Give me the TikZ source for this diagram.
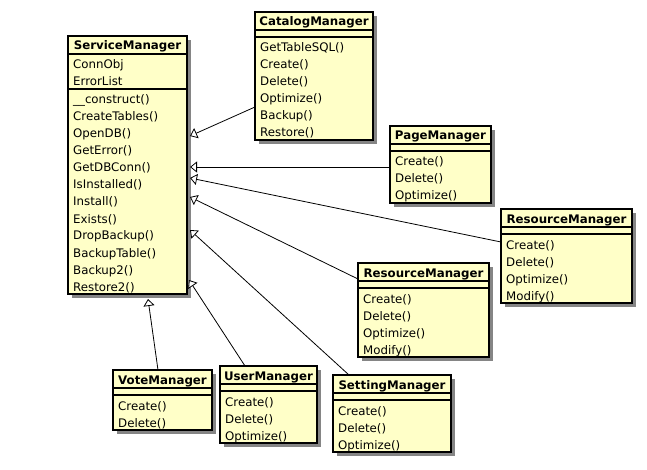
\documentclass[tikz,border=0pt]{standalone}
\usepackage{fontspec}
\setmainfont{DejaVu Sans}
\usetikzlibrary{calc,arrows.meta}

\definecolor{classfill}{HTML}{FFFFC8}
\definecolor{shadowgray}{HTML}{858585}

\tikzset{
  classbox/.style={draw=black, line width=1.3pt, fill=classfill, anchor=north west,
                   inner sep=0pt, outer sep=0pt},
  compsep/.style={draw=black, line width=1.3pt},
  classtitle/.style={anchor=base, inner sep=0pt,
                     font=\fontsize{11.8}{14}\selectfont\bfseries},
  member/.style={anchor=base west, inner sep=0pt,
                 font=\fontsize{11.8}{14}\selectfont},
  generalization/.style={line width=0.8pt,
                 -{Triangle[length=7pt,width=11pt,fill=white,line width=0.8pt]}},
}

% #1 name, #2 x, #3 y (top left), #4 width, #5 attribute count,
% #6 operation count, #7 class name, #8 attributes, #9 operations
\newcommand\UMLclass[9]{%
  \pgfmathsetmacro\umlAttrH{#5==0 ? 7 : 17*#5+1}%
  \pgfmathsetmacro\umlOperH{17*#6+1}%
  \pgfmathsetmacro\umlBoxH{18+\umlAttrH+\umlOperH}%
  \fill[shadowgray] (#2+4,#3+4) rectangle ++(#4,\umlBoxH);
  \node[classbox, minimum width=#4pt, minimum height=\umlBoxH pt] (#1) at (#2,#3) {};
  \draw[compsep] ($(#1.north west)+(0,18)$) -- ($(#1.north east)+(0,18)$);
  \draw[compsep] ($(#1.north west)+(0,18+\umlAttrH)$) -- ($(#1.north east)+(0,18+\umlAttrH)$);
  \node[classtitle] (#1-title) at ($(#1.north west)+(#4/2,14)$) {#7};
  \ifnum#5>0
    \foreach \umlItem [count=\umlI] in {#8}
      \node[member] (#1-attr\umlI) at ($(#1.north west)+(5,18+15+17*\umlI-17)$) {\umlItem};
  \fi
  \foreach \umlItem [count=\umlI] in {#9}
    \node[member] (#1-op\umlI) at ($(#1.north west)+(5,18+\umlAttrH+15+17*\umlI-17)$) {\umlItem};
}

\begin{document}
\begin{tikzpicture}[x=1pt, y=-1pt]
  \fill[white] (0,0) rectangle (647,470);
  \useasboundingbox (0,0) rectangle (647,470);

  \UMLclass{svc}{68}{36}{119}{2}{12}{ServiceManager}{ConnObj,ErrorList}%
    {\_\_construct(),CreateTables(),OpenDB(),GetError(),GetDBConn(),IsInstalled(),Install(),Exists(),DropBackup(),BackupTable(),Backup2(),Restore2()}
  \UMLclass{cat}{255}{12}{118}{0}{6}{CatalogManager}{}%
    {GetTableSQL(),Create(),Delete(),Optimize(),Backup(),Restore()}
  \UMLclass{page}{390}{126}{101}{0}{3}{PageManager}{}%
    {Create(),Delete(),Optimize()}
  \UMLclass{resR}{501}{209}{131}{0}{4}{ResourceManager}{}%
    {Create(),Delete(),Optimize(),Modify()}
  \UMLclass{resM}{358}{263}{131}{0}{4}{ResourceManager}{}%
    {Create(),Delete(),Optimize(),Modify()}
  \UMLclass{vote}{113}{370}{99}{0}{2}{VoteManager}{}%
    {Create(),Delete()}
  \UMLclass{user}{220}{366}{97}{0}{3}{UserManager}{}%
    {Create(),Delete(),Optimize()}
  \UMLclass{set}{333}{375}{118}{0}{3}{SettingManager}{}%
    {Create(),Delete(),Optimize()}

  % inheritance from ServiceManager
  \draw[generalization] ($(cat.north west)+(0,95)$)   -- ($(svc.north east)+(3,100)$);
  \draw[generalization] ($(page.north west)+(0,41)$)  -- ($(svc.north east)+(3,131)$);
  \draw[generalization] ($(resR.north west)+(0,33)$)  -- ($(svc.north east)+(3,142)$);
  \draw[generalization] ($(resM.north west)+(0,16)$)  -- ($(svc.north east)+(3,161)$);
  \draw[generalization] ($(set.north west)+(16,0)$)   -- ($(svc.north east)+(3,194)$);
  \draw[generalization] ($(user.north west)+(25,0)$)  -- ($(svc.north east)+(2,244)$);
  \draw[generalization] ($(vote.north west)+(45,0)$)  -- ($(svc.south west)+(80,5)$);
\end{tikzpicture}
\end{document}
